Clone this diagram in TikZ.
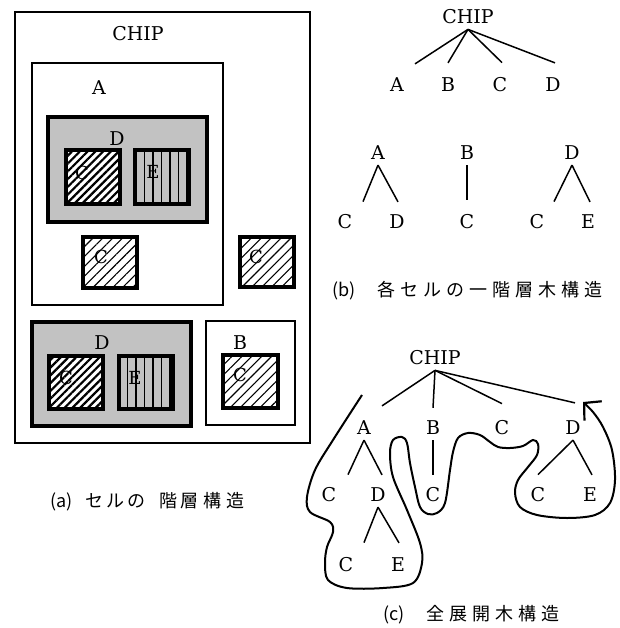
\documentclass[tikz,border=0pt]{standalone}
\usepackage{fontspec}
\setmainfont{DejaVu Serif}
\newfontfamily\jpfont{Noto Sans CJK JP}
\newfontfamily\jpfontls[LetterSpace=28]{Noto Sans CJK JP}
\usetikzlibrary{patterns.meta,arrows.meta,calc}
\tikzset{
  lbl/.style={font=\fontsize{19}{19}\selectfont, inner sep=0pt},
  boxlbl/.style={font=\fontsize{18}{18}\selectfont, inner sep=0pt},
  frame/.style={draw, line width=2.8pt},
  thickframe/.style={draw, line width=3.3pt},
  dotfill/.style={fill=black!24},
  hatchdense/.style={preaction={fill=white}, pattern={Lines[angle=45,distance=5.5pt,line width=2.2pt]}},
  hatchsparse/.style={preaction={fill=white}, pattern={Lines[angle=45,distance=7pt,line width=1.1pt]}},
  vlines/.style={preaction={fill=black!24}, pattern={Lines[angle=90,distance=8.5pt,line width=1.6pt]}},
  treeline/.style={line width=1.5pt},
  caption/.style={font=\jpfont\fontsize{18}{18}\selectfont, inner sep=0pt, anchor=west}
}
\newcommand\tedge[4]{\draw[treeline] ([yshift=-5pt]#1.south) -- ([xshift=#3pt,yshift=#4pt]#2.north);}
\begin{document}
\begin{tikzpicture}[x=1pt,y=-1pt]
\useasboundingbox (0,0) rectangle (619,628);

% ---------- (a) ----------
\draw[frame] (15,12) rectangle (310,443);
\node[lbl] (aCHIP) at (138,34) {CHIP};
\draw[frame] (32,63) rectangle (223,305);
\node[lbl] (aA) at (99,88) {A};
\draw[thickframe, dotfill] (48,117) rectangle (207,222);
\node[lbl] (aD1) at (117,139) {D};
\draw[thickframe, hatchdense] (66,150) rectangle (120,204);
\node[boxlbl] (aC1) at (82,173) {C};
\draw[thickframe, vlines] (135,150) rectangle (189,204);
\node[boxlbl] (aE1) at (153,172) {E};
\draw[thickframe, hatchsparse] (83,237) rectangle (137,288);
\node[boxlbl] (aC2) at (101,257) {C};
\draw[thickframe, hatchsparse] (240,237) rectangle (294,287);
\node[boxlbl] (aC3) at (256,257) {C};

\draw[thickframe, dotfill] (32,322) rectangle (191,426);
\node[lbl] (aD2) at (102,343) {D};
\draw[thickframe, hatchdense] (49,356) rectangle (103,409);
\node[boxlbl] (aC4) at (66,378) {C};
\draw[thickframe, vlines] (119,356) rectangle (173,409);
\node[boxlbl] (aE2) at (135,378) {E};
\draw[frame] (206,321) rectangle (295,425);
\node[lbl] (aB) at (240,343) {B};
\draw[thickframe, hatchsparse] (223,355) rectangle (278,408);
\node[boxlbl] (aC5) at (240,375) {C};

\node[caption] (capa) at (50,502) {(a)\hspace{13pt}セ\hspace{3pt}ル\hspace{3pt}の\hspace{14pt}階\hspace{3pt}層\hspace{5pt}構\hspace{5pt}造};

% ---------- (b) ----------
\node[lbl] (bCHIP) at (468,17) {CHIP};
\node[lbl] (bA) at (397,85) {A};
\node[lbl] (bB) at (448,85) {B};
\node[lbl] (bC) at (500,85) {C};
\node[lbl] (bD) at (553,85) {D};
\tedge{bCHIP}{bA}{18}{14}
\tedge{bCHIP}{bB}{0}{15}
\tedge{bCHIP}{bC}{2}{15}
\tedge{bCHIP}{bD}{2}{15}

\node[lbl] (bA2) at (378,153) {A};
\node[lbl] (bB2) at (467,153) {B};
\node[lbl] (bD2) at (572,153) {D};
\node[lbl] (bC3) at (345,222) {C};
\node[lbl] (bD3) at (397,222) {D};
\node[lbl] (bC4) at (467,222) {C};
\node[lbl] (bC5) at (537,222) {C};
\node[lbl] (bE5) at (588,222) {E};
\tedge{bA2}{bC3}{18}{13}
\tedge{bA2}{bD3}{1}{13}
\tedge{bB2}{bC4}{0}{15}
\tedge{bD2}{bC5}{17}{13}
\tedge{bD2}{bE5}{2}{13}

\node[caption] (capb) at (332,291) {(b)\hspace{22pt}\jpfontls 各セルの一階層木構造};

% ---------- (c) ----------
\node[lbl] (cCHIP) at (435,358) {CHIP};
\node[lbl] (cA) at (364,428) {A};
\node[lbl] (cB) at (433,428) {B};
\node[lbl] (cC) at (502,428) {C};
\node[lbl] (cD) at (573,428) {D};
\tedge{cCHIP}{cA}{18}{15}
\tedge{cCHIP}{cB}{0}{13}
\tedge{cCHIP}{cC}{0}{17}
\tedge{cCHIP}{cD}{2}{18}

\node[lbl] (cC1) at (329,495) {C};
\node[lbl] (cD1) at (378,495) {D};
\node[lbl] (cC2) at (433,495) {C};
\node[lbl] (cC3) at (538,495) {C};
\node[lbl] (cE3) at (590,495) {E};
\tedge{cA}{cC1}{19}{13}
\tedge{cA}{cD1}{4}{13}
\tedge{cB}{cC2}{0}{13}
\tedge{cD}{cC3}{0}{13}
\tedge{cD}{cE3}{2}{13}

\node[lbl] (cC4) at (346,565) {C};
\node[lbl] (cE4) at (398,565) {E};
\tedge{cD1}{cC4}{18}{15}
\tedge{cD1}{cE4}{1}{15}

\draw[line width=2pt, -{Straight Barb[length=12pt,width=26pt,line width=2.2pt]}]
  plot[smooth, tension=0.55] coordinates {
  (362,395) (333,440) (315,470) (307,497) (310,512) (330,522) (333,532)
  (327,547) (325,563) (328,580) (347,588) (383,588) (413,583) (422,563)
  (420,543) (407,510) (393,477) (390,453) (393,440) (402,437) (407,443)
  (410,463) (415,487) (420,507) (428,514) (437,513) (445,503) (450,470)
  (453,452) (458,438) (468,433) (480,435) (490,442) (498,447) (510,448)
  (523,446) (533,440) (538,444) (537,455) (528,467) (518,480) (515,493)
  (520,507) (537,515) (567,518) (595,515) (610,503) (615,480) (612,450)
  (603,427) (593,412) (583,402)};

\node[caption] (capc) at (383,615) {(c)\hspace{22pt}\jpfontls 全展開木構造};
\end{tikzpicture}
\end{document}
